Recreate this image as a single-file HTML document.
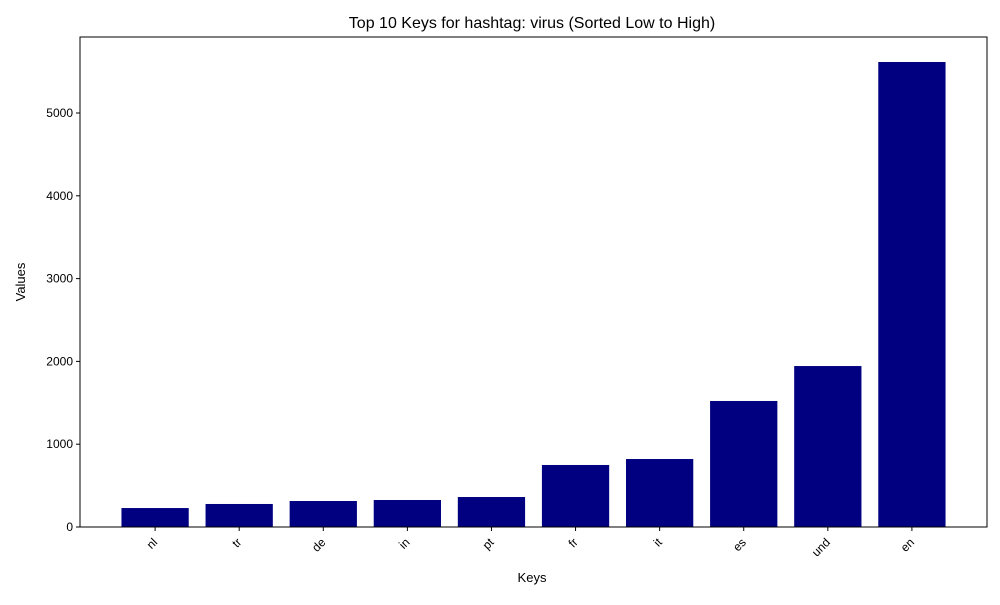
<!DOCTYPE html>
<html><head><meta charset="utf-8"><style>
body{margin:0;background:#fff;font-family:"Liberation Sans","DejaVu Sans",sans-serif;}
</style></head><body>
<svg id="chart" width="1000" height="600" xmlns="http://www.w3.org/2000/svg" font-family="Liberation Sans, DejaVu Sans, sans-serif">
<rect width="1000" height="600" fill="#fff"/>
<text x="532" y="28" font-size="16" text-anchor="middle">Top 10 Keys for hashtag: virus (Sorted Low to High)</text>
<text x="532" y="582" font-size="13" text-anchor="middle">Keys</text>
<text transform="translate(25,282) rotate(-90)" font-size="13" text-anchor="middle">Values</text>
<g id="bars"></g><g id="yt"></g><g id="xt"></g>
<rect x="80" y="37" width="907" height="490" fill="none" stroke="#000" stroke-width="1"/>
</svg>
<script>
const categories=["nl","tr","de","in","pt","fr","it","es","und","en"];
const values=[229,278,314,326,362,749,821,1522,1944,5616];
const yTicks=[0,1000,2000,3000,4000,5000];
const NS="http://www.w3.org/2000/svg";
const X0=80,X1=987,Y0=527,Y1=37;
const xmin=-0.893,xmax=9.893,ymin=0,ymax=5918;
function xs(i){return X0+(i-xmin)/(xmax-xmin)*(X1-X0);}
function ys(v){return Y0-(v-ymin)/(ymax-ymin)*(Y0-Y1);}
function mk(t,a,p){const e=document.createElementNS(NS,t);for(const k in a)e.setAttribute(k,a[k]);p.appendChild(e);return e;}
const bars=document.getElementById('bars'),yt=document.getElementById('yt'),xt=document.getElementById('xt');
const bw=(xs(0.8)-xs(0));
values.forEach((v,i)=>{
 const r=mk('rect',{x:xs(i)-bw/2,y:ys(v),width:bw,height:ys(0)-ys(v),fill:'#000080'},bars);
 
 
 const tk=mk('line',{x1:xs(i),x2:xs(i),y1:Y0,y2:Y0+4,stroke:'#000'},xt);
 
 
 const t=mk('text',{transform:`translate(${xs(i)-4},${Y0+9}) rotate(-45)`,x:0,y:10,'font-size':12,'text-anchor':'end'},xt);
 t.textContent=categories[i];
 
 
});
yTicks.forEach(v=>{
 const l=mk('line',{x1:X0-4,x2:X0,y1:ys(v),y2:ys(v),stroke:'#000'},yt);
 
 
 const t=mk('text',{x:X0-7,y:ys(v)+4,'font-size':12,'text-anchor':'end'},yt);
 t.textContent=v;
 
 
});
</script>
</body></html>
